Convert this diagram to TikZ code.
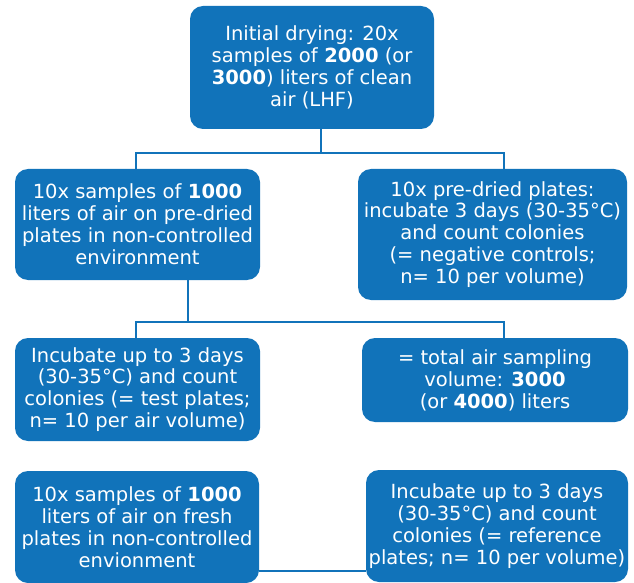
\documentclass[tikz,border=0pt]{standalone}
\usepackage{fontspec}
\setmainfont{DejaVu Sans}
\definecolor{boxblue}{RGB}{17,115,186}
\begin{document}
\begin{tikzpicture}[x=1pt,y=1pt,
  box/.style={draw=none, fill=boxblue, rounded corners=13pt, text=white, align=center,
    inner sep=0pt, font=\fontsize{19.5}{21.9}\selectfont},
  conn/.style={draw=boxblue, line width=1.8pt}]
\useasboundingbox (0,0) rectangle (634,582);
\clip (0,0) rectangle (634,582);
\node[box, minimum width=244, minimum height=123] (top) at (312,514.5)
  {Initial drying: 20x\\samples of \textbf{2000} (or\\\textbf{3000}) liters of clean\\air (LHF)};
\node[box, minimum width=245, minimum height=111] (b2) at (137.5,357.5)
  {10x samples of \textbf{1000}\\liters of air on pre-dried\\plates in non-controlled\\environment};
\node[box, minimum width=269, minimum height=131] (b3) at (492.5,347.5)
  {10x pre-dried plates:\\incubate 3 days (30-35°C)\\and count colonies\\(= negative controls;\\n= 10 per volume)};
\node[box, minimum width=245, minimum height=103] (b4) at (137.5,192.5)
  {Incubate up to 3 days\\(30-35°C) and count\\colonies (= test plates;\\n= 10 per air volume)};
\node[box, minimum width=266, minimum height=84] (b5) at (495,202)
  {= total air sampling\\volume: \textbf{3000}\\(or \textbf{4000}) liters};
\node[box, minimum width=244, minimum height=112] (b6) at (137,55)
  {10x samples of \textbf{1000}\\liters of air on fresh\\plates in non-controlled\\envionment};
\node[box, minimum width=262, minimum height=112] (b7) at (497,56)
  {Incubate up to 3 days\\(30-35°C) and count\\colonies (= reference\\plates; n= 10 per volume)};
\coordinate (xl) at (136,0);
\coordinate (xr) at (504,0);
\coordinate (t1) at (321,429);
\coordinate (t2) at (188,260);
\coordinate (hb) at (0,11);
\draw[conn] (top.south -| t1) -- (t1);
\draw[conn] (b2.north -| xl) |- (t1) -| (b3.north -| xr);
\draw[conn] (b2.south -| t2) -- (t2);
\draw[conn] (b4.north -| xl) |- (t2) -| (b5.north -| xr);
\draw[conn] (b6.east |- hb) -- (b7.west |- hb);
\end{tikzpicture}
\end{document}
